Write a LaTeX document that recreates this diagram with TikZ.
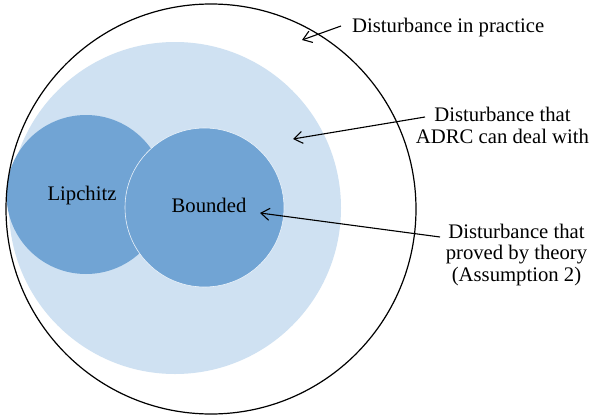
\documentclass[tikz,border=0pt]{standalone}
\usepackage{fontspec}
\setmainfont{Liberation Serif}
\usetikzlibrary{arrows.meta}
\definecolor{lightfill}{RGB}{207,225,242}
\definecolor{darkfill}{RGB}{113,164,212}
\tikzset{
  setcirc/.style={circle, inner sep=0pt, outer sep=0pt},
  lbl/.style={font=\fontsize{20.7}{21.5}\selectfont, align=center, inner sep=0pt},
  pointer/.style={draw=black, line width=1.1pt, {Straight Barb[length=8.5pt,width=12pt,line width=1.1pt]}-},
}
\begin{document}
\begin{tikzpicture}[x=1pt,y=-1pt]
\useasboundingbox (0,0) rectangle (589,418);
\fill[white] (0,0) rectangle (589,418);
% sets
\node[setcirc, fill=lightfill, minimum size=332pt] (adrc) at (175,208) {};
\node[setcirc, fill=darkfill, minimum size=159pt] (lip) at (86,194.5) {};
\node[setcirc, fill=darkfill, draw=white!60!lightfill, line width=0.6pt, minimum size=159pt] (bnd) at (204.5,207.5) {};
\node[setcirc, draw=black, line width=1.2pt, minimum size=410pt] (prac) at (211,209) {};
% set labels
\node[lbl] (liptxt) at (82,196) {Lipchitz};
\node[lbl] (bndtxt) at (209,205) {Bounded};
% outside labels
\node[lbl, anchor=base west] (l1) at (352,32) {Disturbance in practice};
\node[lbl] (l2) at (502.5,125.5) {Disturbance that\\ADRC can deal with};
\node[lbl] (l3) at (516.5,255) {Disturbance that\\proved by theory\\(Assumption 2)};
% arrow ends
\coordinate (h1) at (302,40);
\coordinate (t1) at (341,26);
\coordinate (h2) at (293,139);
\coordinate (t2) at (425,117);
\coordinate (h3) at (260,213);
\coordinate (t3) at (440,237);
\draw[pointer] (h1) -- (t1);
\draw[pointer] (h2) -- (t2);
\draw[pointer] (h3) -- (t3);
\end{tikzpicture}
\end{document}
